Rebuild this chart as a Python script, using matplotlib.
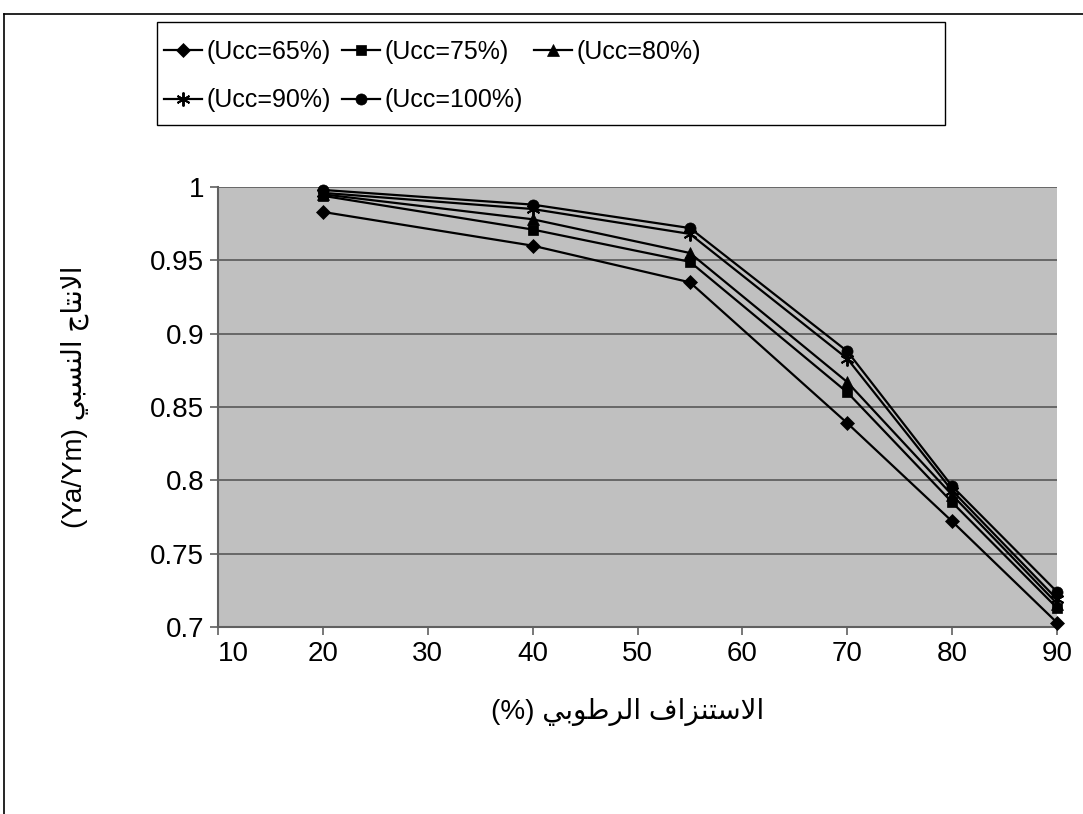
import numpy as np
import matplotlib.pyplot as plt
from matplotlib.lines import Line2D
from matplotlib.patches import Rectangle
from matplotlib.ticker import FuncFormatter

# Moisture depletion (%) and relative yield (Ya/Ym) for each uniformity level
depletion = [20, 40, 55, 70, 80, 90]
ucc_65 = [0.983, 0.960, 0.935, 0.839, 0.772, 0.703]
ucc_75 = [0.994, 0.971, 0.949, 0.860, 0.785, 0.713]
ucc_80 = [0.995, 0.978, 0.955, 0.867, 0.790, 0.716]
ucc_90 = [0.996, 0.985, 0.968, 0.883, 0.793, 0.719]
ucc_100 = [0.998, 0.988, 0.972, 0.888, 0.796, 0.724]
series_labels = ["(Ucc=65%)", "(Ucc=75%)", "(Ucc=80%)", "(Ucc=90%)", "(Ucc=100%)"]

# --- tiny Arabic shaper (matplotlib has no shaping / bidi) ---
FORMS = {  # isolated, final, initial, medial
    "\u0627": ("\uFE8D", "\uFE8E", None, None),
    "\u0625": ("\uFE87", "\uFE88", None, None),
    "\u0644": ("\uFEDD", "\uFEDE", "\uFEDF", "\uFEE0"),
    "\u0633": ("\uFEB1", "\uFEB2", "\uFEB3", "\uFEB4"),
    "\u062A": ("\uFE95", "\uFE96", "\uFE97", "\uFE98"),
    "\u0646": ("\uFEE5", "\uFEE6", "\uFEE7", "\uFEE8"),
    "\u0632": ("\uFEAF", "\uFEB0", None, None),
    "\u0641": ("\uFED1", "\uFED2", "\uFED3", "\uFED4"),
    "\u0631": ("\uFEAD", "\uFEAE", None, None),
    "\u0637": ("\uFEC1", "\uFEC2", "\uFEC3", "\uFEC4"),
    "\u0648": ("\uFEED", "\uFEEE", None, None),
    "\u0628": ("\uFE8F", "\uFE90", "\uFE91", "\uFE92"),
    "\u064A": ("\uFEF1", "\uFEF2", "\uFEF3", "\uFEF4"),
    "\u062C": ("\uFE9D", "\uFE9E", "\uFE9F", "\uFEA0"),
    "LA": ("\uFEFB", "\uFEFC", None, None),
    "LAH": ("\uFEF9", "\uFEFA", None, None),
}


def shape(word):
    chars = []
    i = 0
    while i < len(word):
        c = word[i]
        if c == "\u0644" and i + 1 < len(word) and word[i + 1] in ("\u0627", "\u0625"):
            chars.append("LA" if word[i + 1] == "\u0627" else "LAH")
            i += 2
            continue
        chars.append(c)
        i += 1
    out = []
    for k, c in enumerate(chars):
        dual = FORMS[c][2] is not None
        join_prev = k > 0 and FORMS[chars[k - 1]][2] is not None
        join_next = dual and k < len(chars) - 1
        iso, fin, ini, med = FORMS[c]
        if join_prev and join_next:
            out.append(med)
        elif join_prev:
            out.append(fin)
        elif join_next:
            out.append(ini)
        else:
            out.append(iso)
    return "".join(reversed(out))


# visual (left-to-right) order of the right-to-left titles
xlabel_text = "(%) " + shape("الرطوبي") + " " + shape("الاستنزاف")
ylabel_text = "(Ya/Ym) " + shape("النسبي") + " " + shape("الانتاج")

plt.rcParams["font.family"] = ["Liberation Sans", "DejaVu Sans"]

fig = plt.figure(figsize=(10.83, 8.14), dpi=100)
ax = fig.add_axes([218 / 1083, 1 - 627 / 814, (1057 - 218) / 1083, (627 - 187) / 814])
ax.set_facecolor("#C0C0C0")

markers = ["D", "s", "^", (6, 2, 0), "o"]
sizes = [7, 7, 8, 10, 8]
all_series = [ucc_65, ucc_75, ucc_80, ucc_90, ucc_100]
handles = []
for vals, m, ms, lab in zip(all_series, markers, sizes, series_labels):
    h, = ax.plot(depletion, vals, color="black", lw=1.6, marker=m, markersize=ms,
                 markeredgewidth=1.4 if m == (6, 2, 0) else 0.5, clip_on=False, label=lab, zorder=3)
    handles.append(h)

ax.set_xlim(10, 90)
ax.set_ylim(0.7, 1.0)
ax.set_xticks(np.arange(10, 91, 10))
ax.set_yticks(np.arange(0.7, 1.001, 0.05))
ax.yaxis.set_major_formatter(FuncFormatter(lambda v, p: "%g" % round(v, 2)))
ax.grid(axis="y", color="#606060", lw=1.3, zorder=1)
ax.set_axisbelow(True)
for s in ["top", "right"]:
    ax.spines[s].set_visible(False)
for s in ["left", "bottom"]:
    ax.spines[s].set_color("#606060")
    ax.spines[s].set_linewidth(1.5)
ax.tick_params(labelsize=20, length=6, width=1.2, color="#606060", pad=4)
# first x label sits to the right of its tick, as in the original
ax.get_xticklabels()[0].set_horizontalalignment("left")

fig.text(628 / 1083, 1 - 712 / 814, xlabel_text, fontsize=20, ha="center", va="center")
fig.text(75 / 1083, 1 - 397 / 814, ylabel_text, fontsize=20, ha="center", va="center", rotation=90)

# legend: entries in row order 65 75 80 / 90 100
order = [0, 3, 1, 4, 2]
leg = fig.legend([handles[i] for i in order], [series_labels[i] for i in order],
                 loc="upper left", bbox_to_anchor=(164 / 1083, 1 - 40 / 814), ncol=3,
                 frameon=False, handlelength=1.5, handletextpad=0.2, columnspacing=0.45,
                 labelspacing=0.97, borderpad=0.0, borderaxespad=0.0, fontsize=18)
fig.add_artist(Rectangle((157 / 1083, 1 - 125 / 814), (945 - 157) / 1083, (125 - 22) / 814,
                         transform=fig.transFigure, fill=False, edgecolor="black", lw=1.0))

# outer chart border (top and left edges visible)
fig.add_artist(Line2D([4 / 1083, 1], [1 - 14 / 814, 1 - 14 / 814], transform=fig.transFigure,
                      color="black", lw=1.2))
fig.add_artist(Line2D([4 / 1083, 4 / 1083], [0, 1 - 14 / 814], transform=fig.transFigure,
                      color="black", lw=1.2))

plt.savefig("out.png", dpi=100)
